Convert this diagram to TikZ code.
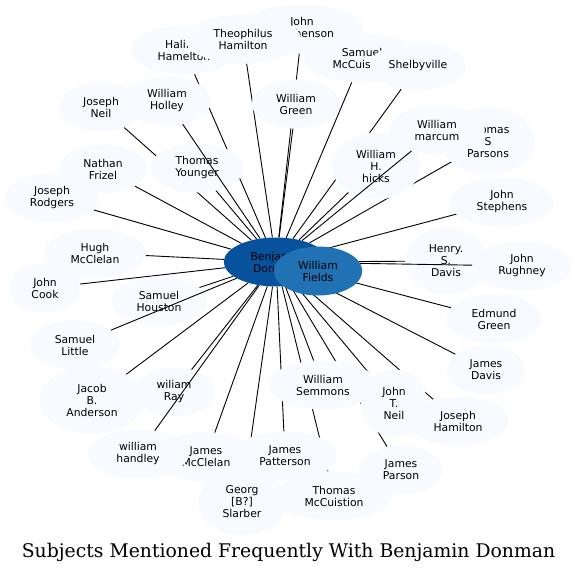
\documentclass[tikz,border=0pt]{standalone}
\usepackage{fontspec}
\setmainfont{DejaVu Sans}
\newfontfamily\titlefont{DejaVu Serif}
\usetikzlibrary{shapes.geometric}
\pgfdeclarelayer{bg}
\pgfdeclarelayer{fg}
\pgfdeclarelayer{top}
\pgfsetlayers{bg,main,fg,top}
\definecolor{pale}{HTML}{F7FBFF}
\definecolor{hubdark}{HTML}{08519C}
\definecolor{hubmid}{HTML}{2171B5}
\tikzset{
  person/.style={ellipse, fill=pale, draw=none, inner xsep=11.5pt, inner ysep=0pt,
    minimum height=49pt, minimum width=54pt, align=center,
    font=\fontsize{10.8}{12}\selectfont},
  tall/.style={minimum height=67pt},
  narrowish/.style={inner xsep=4.6pt},
  wideish/.style={inner xsep=14pt},
  hub/.style={person, fill=hubdark},
  hubtwo/.style={person, fill=hubmid},
  link/.style={line width=0.9pt, draw=black},
  titletext/.style={font=\titlefont\fontsize{18.8}{22}\selectfont, anchor=base}
}
\begin{document}
\begin{tikzpicture}[x=1pt,y=-1pt]
\useasboundingbox (0,0) rectangle (577,572);
% nodes (main layer, later ones drawn on top)
\node[hub] (ben) at (276,262) {Benjamin\\Donman};
\node[person] (hali) at (184,50) {Halifax\\Hamelton};
\node[person] (jsteph) at (302,29) {John\\Stephenson};
\node[person] (theo) at (243,39) {Theophilus\\Hamilton};
\node[person] (smcc) at (362,58) {Samuel\\McCuistion};
\node[person,narrowish] (shelby) at (418,66) {Shelbyville};
\node[person] (wgreen) at (296,104) {William\\Green};
\node[person] (jneil) at (101,107) {Joseph\\Neil};
\node[person] (holley) at (167,101) {William\\Holley};
\node[person] (younger) at (197,168) {Thomas\\Younger};
\node[person] (frizel) at (103,169) {Nathan\\Frizel};
\node[person] (rodgers) at (52,198) {Joseph\\Rodgers};
\node[person,tall] (hicks) at (376,166) {William\\H.\\hicks};
\node[person,tall] (parsons) at (488,141) {Thomas\\S\\Parsons};
\node[person] (marcum) at (437,130) {William\\marcum};
\node[person] (stephens) at (502,202) {John\\Stephens};
\node[person] (hugh) at (95,253) {Hugh\\McClelan};
\node[person] (cook) at (45,288) {John\\Cook};
\node[person] (houston) at (159,301) {Samuel\\Houston};
\node[person,tall] (hdavis) at (446,261) {Henry.\\S.\\Davis};
\node[person] (rughney) at (522,266) {John\\Rughney};
\node[person] (edmund) at (494,319) {Edmund\\Green};
\node[person] (little) at (75,345) {Samuel\\Little};
\node[person,tall] (jacob) at (92,400) {Jacob\\B.\\Anderson};
\node[person] (ray) at (174,392) {wiliam\\Ray};
\node[person] (jdavis) at (486,370) {James\\Davis};
\node[person] (semmons) at (323,385) {William\\Semmons};
\node[person,tall] (jtneil) at (394,403) {John\\T.\\Neil};
\node[person] (jhamilton) at (458,421) {Joseph\\Hamilton};
\node[person] (jmcclelan) at (206,457) {James\\McClelan};
\node[person,wideish] (handley) at (138,454) {william\\handley};
\node[person,tall] (georg) at (242,502) {Georg\\{[B?]}\\Slarber};
\node[person] (patterson) at (285,456) {James\\Patterson};
\node[person] (tmcc) at (334,496) {Thomas\\McCuistion};
\node[person] (jparson) at (401,470) {James\\Parson};
\begin{pgfonlayer}{top}
\node[hubtwo] (fields) at (318,271) {William\\Fields};
\end{pgfonlayer}
% edges hidden by nodes they pass
\begin{pgfonlayer}{bg}
\foreach \n in {hali,jsteph,theo,smcc,shelby,wgreen,jneil,younger,frizel,rodgers,
  hicks,parsons,stephens,hugh,cook,houston,hdavis,edmund,jacob,ray,jdavis,
  semmons,jtneil,jhamilton,jmcclelan,georg,patterson,tmcc,jparson}
  \draw[link] (ben) -- (\n);
\end{pgfonlayer}
% edges drawn over nodes they cross
\begin{pgfonlayer}{fg}
\foreach \n in {holley,marcum,little,handley,rughney}
  \draw[link] (ben) -- (\n);
\end{pgfonlayer}
\node[titletext] (title) at (288.5,557) {Subjects Mentioned Frequently With Benjamin Donman};
\end{tikzpicture}
\end{document}
